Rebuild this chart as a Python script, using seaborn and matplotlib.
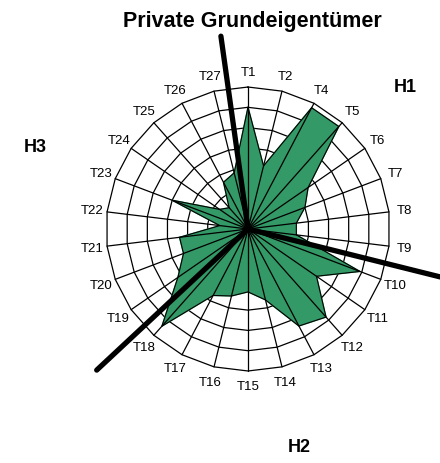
import numpy as np
import pandas as pd
import matplotlib
matplotlib.use("Agg")
import matplotlib.pyplot as plt
import seaborn as sns

sns.set_theme(style="white")
plt.rcParams['font.family'] = ['Liberation Sans', 'DejaVu Sans']
plt.rcParams['text.color'] = 'black'

# categories (T3 is not part of the chart)
labels = ["T1", "T2", "T4", "T5", "T6", "T7", "T8", "T9", "T10", "T11", "T12", "T13", "T14",
          "T15", "T16", "T17", "T18", "T19", "T20", "T21", "T22", "T23", "T24", "T25", "T26", "T27"]
values = [6.0, 3.2, 6.75, 6.75, 3.6, 3.0, 2.4, 2.4, 5.9, 4.1, 5.8, 5.4, 3.6,
          3.1, 3.4, 3.7, 6.4, 4.2, 3.4, 3.4, 1.4, 4.0, 1.7, 1.4, 2.6, 2.85]
rings = [1, 2, 3, 4, 5, 6, 7]
# hypothesis dividers (angle in degrees clockwise from top, length in ring units)
group_names = ["H1", "H2", "H3"]
divider_angle = [352, 104, 227]
divider_len = [9.6, 9.8, 10.2]

n = len(labels)
theta = np.arange(n) * 2 * np.pi / n
theta_closed = np.append(theta, 2 * np.pi)
df = pd.DataFrame({'theta': theta_closed, 'value': values + [values[0]]})

fig = plt.figure(figsize=(4.4, 4.64), dpi=100)
ax = fig.add_axes([0.2409, 0.1983, 0.6455, 0.612], projection='polar')
ax.set_theta_zero_location('N')
ax.set_theta_direction(-1)

# polygon grid rings
for r in rings:
    ax.plot(theta_closed, [r] * (n + 1), color='black', lw=0.9, zorder=1, clip_on=False)

ax.fill(df['theta'], df['value'], color='#339966', zorder=2)
sns.lineplot(data=df, x='theta', y='value', sort=False, estimator=None,
             color='black', lw=0.8, ax=ax, zorder=3)

# spokes on top of the fill
for t in theta:
    ax.plot([t, t], [0, rings[-1]], color='black', lw=0.9, zorder=4, clip_on=False)

for a, L in zip(divider_angle, divider_len):
    ax.plot([np.deg2rad(a)] * 2, [0, L], color='black', lw=3.8,
            solid_capstyle='round', zorder=5, clip_on=False)

for t, lab in zip(theta, labels):
    ax.text(t, 7.75, lab, ha='center', va='center', fontsize=9.5, color='black')

ax.set_ylim(0, 7)
ax.grid(False)
ax.spines['polar'].set_visible(False)
ax.set_xticks([])
ax.set_yticks([])
ax.set_xlabel('')
ax.set_ylabel('')
ax.patch.set_alpha(0)

fig.text(252 / 440, 1 - 21 / 464, "Private Grundeigentümer", ha='center', va='center',
         fontsize=15.5, weight='bold', color='black')
fig.text(405 / 440, 1 - 88 / 464, group_names[0], ha='center', va='center',
         fontsize=13, weight='bold', color='black')
fig.text(299 / 440, 1 - 448 / 464, group_names[1], ha='center', va='center',
         fontsize=13, weight='bold', color='black')
fig.text(35 / 440, 1 - 147 / 464, group_names[2], ha='center', va='center',
         fontsize=13, weight='bold', color='black')

fig.savefig("out.png", dpi=100)
